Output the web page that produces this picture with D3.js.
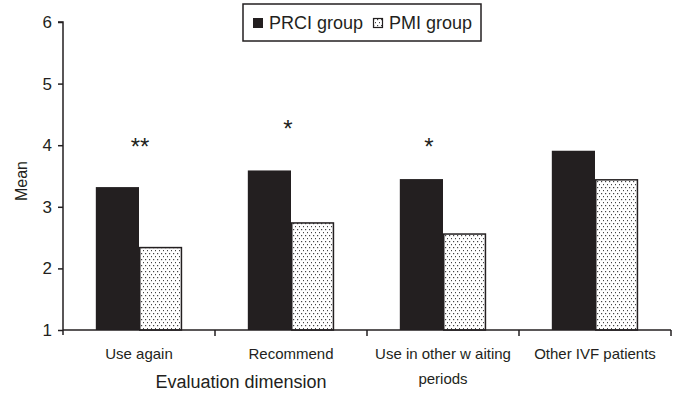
<!DOCTYPE html>
<html>
<head>
<meta charset="utf-8">
<script src="https://cdn.jsdelivr.net/npm/d3@7"></script>
<style>
  html, body { margin: 0; padding: 0; background: #fff; }
  svg { display: block; font-family: "Liberation Sans", Arial, sans-serif; }
</style>
</head>
<body>
<svg id="chart" width="674" height="394"></svg>
<script>
const categories = ["Use again", "Recommend", "Use in other w aiting periods", "Other IVF patients"];
const categoryLines = [["Use again"], ["Recommend"], ["Use in other w aiting", "periods"], ["Other IVF patients"]];
const seriesNames = ["PRCI group", "PMI group"];
const prciValues = [3.32, 3.59, 3.45, 3.91];
const pmiValues = [2.35, 2.75, 2.57, 3.45];
const significance = ["**", "*", "*", ""];
const yTicks = [1, 2, 3, 4, 5, 6];
const yLabel = "Mean";
const xLabel = "Evaluation dimension";

const svg = d3.select("#chart");
const ink = "#231f20";
const margin = { left: 63, right: 3, top: 22, bottom: 64 };
const W = 674, H = 394;

// dotted pattern
const defs = svg.append("defs");
const pat = defs.append("pattern").attr("id", "dots")
  .attr("patternUnits", "userSpaceOnUse").attr("width", 4).attr("height", 6);
pat.append("rect").attr("width", 4).attr("height", 6).attr("fill", "#fff");
pat.append("rect").attr("x", 1).attr("y", 1).attr("width", 1.2).attr("height", 1.2).attr("fill", "#444");
pat.append("rect").attr("x", 3).attr("y", 4).attr("width", 1.2).attr("height", 1.2).attr("fill", "#444");

const x = d3.scaleBand().domain(categories).range([margin.left, W - margin.right]);
const xs = d3.scaleBand().domain(seriesNames).range([0, x.bandwidth()]).paddingOuter(0.76).paddingInner(0);
const y = d3.scaleLinear().domain([1, 6]).range([H - margin.bottom, margin.top]);

const data = categories.map((c, i) => ({ cat: c, vals: [prciValues[i], pmiValues[i]], sig: significance[i], lines: categoryLines[i] }));

// bars
const g = svg.append("g");
data.forEach(d => {
  seriesNames.forEach((s, j) => {
    g.append("rect")
      .attr("x", x(d.cat) + xs(s) + (j === 1 ? 0.75 : 0))
      .attr("y", y(d.vals[j]) + (j === 1 ? 0.75 : 0))
      .attr("width", xs.bandwidth() - (j === 1 ? 1.5 : 0))
      .attr("height", y(1) - y(d.vals[j]) - (j === 1 ? 0.75 : 0))
      .attr("fill", j === 0 ? ink : "url(#dots)")
      .attr("stroke", j === 0 ? "none" : ink)
      .attr("stroke-width", 1.5);
  });
});

// significance markers (placed a little above the taller bar)
const sigDx = [1, -3, -14, 0];
const sigLift = [0.73, 0.75, 0.60, 0];
data.forEach((d, i) => {
  if (!d.sig) return;
  svg.append("text")
    .attr("x", x(d.cat) + x.bandwidth() / 2 + sigDx[i])
    .attr("y", y(d3.max(d.vals) + sigLift[i]) + 13)
    .attr("text-anchor", "middle")
    .attr("font-size", 24)
    .attr("fill", ink)
    .text(d.sig);
});

// y axis
const yAxis = d3.axisLeft(y).tickValues(yTicks).tickSize(5).tickPadding(6).tickFormat(d3.format("d"));
const ya = svg.append("g").attr("transform", `translate(${margin.left},0)`).call(yAxis);
ya.select(".domain").attr("stroke", ink).attr("stroke-width", 1.5).attr("d", `M-5,${y(6)}H0V${y(1)+5}`);
ya.selectAll(".tick line").attr("stroke", ink).attr("stroke-width", 1.5);
ya.selectAll(".tick text").attr("font-size", 17).attr("fill", ink).attr("font-family", "Liberation Sans, Arial, sans-serif");

// x axis
const xa = svg.append("g").attr("transform", `translate(0,${y(1)})`);
xa.append("line").attr("x1", margin.left).attr("x2", W - margin.right)
  .attr("stroke", ink).attr("stroke-width", 1.5);
const boundaries = categories.map(c => x(c)).concat([x(categories[categories.length - 1]) + x.bandwidth()]);
xa.selectAll(".bt").data(boundaries.slice(1)).join("line")
  .attr("x1", d => d).attr("x2", d => d).attr("y1", 0).attr("y2", 6)
  .attr("stroke", ink).attr("stroke-width", 1.5);

data.forEach(d => {
  const t = svg.append("text")
    .attr("x", x(d.cat) + x.bandwidth() / 2)
    .attr("y", 359)
    .attr("text-anchor", "middle")
    .attr("font-size", 15)
    .attr("fill", ink);
  d.lines.forEach((ln, k) => {
    t.append("tspan").attr("x", x(d.cat) + x.bandwidth() / 2).attr("dy", k === 0 ? 0 : 25).text(ln);
  });
});

// axis titles
svg.append("text").attr("x", 241).attr("y", 388).attr("text-anchor", "middle")
  .attr("font-size", 18).attr("fill", ink).text(xLabel);
svg.append("text").attr("transform", `translate(27,181) rotate(-90)`).attr("text-anchor", "middle")
  .attr("font-size", 16).attr("fill", ink).text(yLabel);

// legend
const lg = svg.append("g");
lg.append("rect").attr("x", 243).attr("y", 4).attr("width", 238).attr("height", 37)
  .attr("fill", "#fff").attr("stroke", ink).attr("stroke-width", 1.5);
lg.append("rect").attr("x", 253).attr("y", 18).attr("width", 10).attr("height", 10).attr("fill", ink);
lg.append("text").attr("x", 269).attr("y", 29).attr("font-size", 18).attr("fill", ink).text(seriesNames[0]);
lg.append("rect").attr("x", 373.5).attr("y", 18.5).attr("width", 9).attr("height", 9)
  .attr("fill", "url(#dots)").attr("stroke", ink).attr("stroke-width", 1.2);
lg.append("text").attr("x", 389).attr("y", 29).attr("font-size", 18).attr("fill", ink).text(seriesNames[1]);
</script>
</body>
</html>
